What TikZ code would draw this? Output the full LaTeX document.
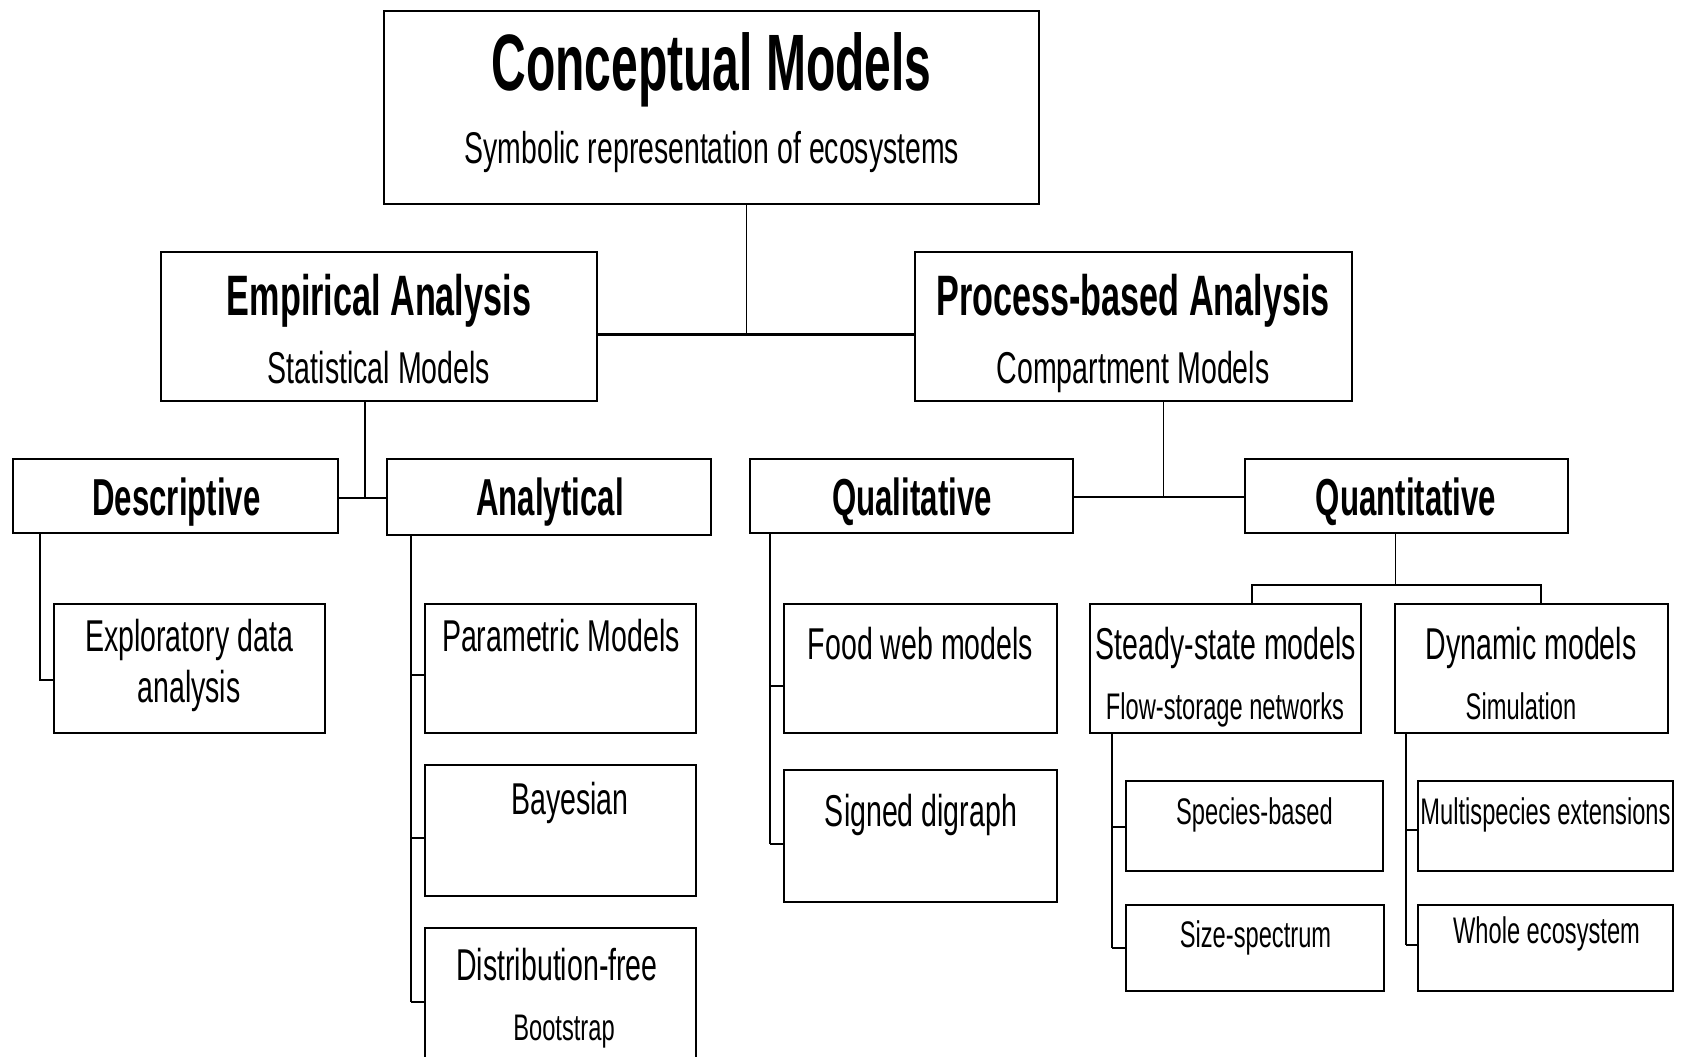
\documentclass[tikz,border=0pt]{standalone}
\usepackage{fontspec}
\setmainfont{Liberation Sans}[FakeStretch=0.64]
\newfontfamily\headfont{Liberation Sans}[FakeStretch=0.6]

\newcommand{\fs}[1]{\fontsize{#1}{#1}\selectfont}

\begin{document}
\begin{tikzpicture}[x=0.5pt,y=-0.5pt,
    box/.style={draw,line width=1.1pt,inner sep=0pt},
    wire/.style={line width=1pt},
    txt/.style={inner sep=0pt,anchor=base,font=\fs{22.3}},
    small/.style={inner sep=0pt,anchor=base,font=\fs{18.5}},
    head/.style={inner sep=0pt,anchor=base,font=\headfont\bfseries\fs{26}}]
  \useasboundingbox (0,0) rectangle (1687,1056);
  \fill[white] (0,0) rectangle (1687,1056);

  % top levels
  \node[box,minimum width=327.5pt,minimum height=96.5pt] (concept) at (711.5,107.5) {};
  \node[head,font=\headfont\bfseries\fs{40}] (conceptT) at (711.5,90) {Conceptual Models};
  \node[txt,font=\fs{22.2}] (conceptS) at (712,163) {Symbolic representation of ecosystems};

  \node[box,minimum width=218pt,minimum height=74.5pt] (emp) at (379,326.5) {};
  \node[head,font=\headfont\bfseries\fs{28.5}] (empT) at (379,315) {Empirical Analysis};
  \node[txt] (empS) at (379,383) {Statistical Models};

  \node[box,minimum width=218.5pt,minimum height=74.5pt] (proc) at (1133.5,326.5) {};
  \node[head,font=\headfont\bfseries\fs{28.5}] (procT) at (1133,315) {Process-based Analysis};
  \node[txt] (procS) at (1133,383) {Compartment Models};

  \node[box,minimum width=162.5pt,minimum height=37pt] (desc) at (175.5,496) {};
  \node[head] (descT) at (176.5,515) {Descriptive};
  \node[box,minimum width=162pt,minimum height=38pt] (anal) at (549,497) {};
  \node[head] (analT) at (550,515) {Analytical};
  \node[box,minimum width=161.5pt,minimum height=37pt] (qual) at (911.5,496) {};
  \node[head] (qualT) at (912,515) {Qualitative};
  \node[box,minimum width=161.5pt,minimum height=37pt] (quant) at (1406.5,496) {};
  \node[head] (quantT) at (1406,515) {Quantitative};

  % leaves
  \node[box,minimum width=135.5pt,minimum height=64.5pt] (explor) at (189.5,668.5) {};
  \node[txt] (explorA) at (189,651) {Exploratory data};
  \node[txt] (explorB) at (189,702) {analysis};

  \node[box,minimum width=135.5pt,minimum height=64.5pt] (param) at (560.5,668.5) {};
  \node[txt] (paramT) at (561,651) {Parametric Models};
  \node[box,minimum width=135.5pt,minimum height=65.5pt] (bayes) at (560.5,830.5) {};
  \node[txt] (bayesT) at (570,814) {Bayesian};
  \node[box,minimum width=135.5pt,minimum height=68pt] (distr) at (560.5,996) {};
  \node[txt] (distrT) at (557,980) {Distribution-free};
  \node[small] (distrS) at (564,1040) {Bootstrap};

  \node[box,minimum width=136.5pt,minimum height=64.5pt] (food) at (920.5,668.5) {};
  \node[txt] (foodT) at (920.5,659) {Food web models};
  \node[box,minimum width=136.5pt,minimum height=66pt] (signed) at (920.5,836) {};
  \node[txt] (signedT) at (921,826) {Signed digraph};

  \node[box,minimum width=135.5pt,minimum height=64.5pt] (steady) at (1225.5,668.5) {};
  \node[txt] (steadyT) at (1226,659) {Steady-state models};
  \node[small] (steadyS) at (1225,719) {Flow-storage networks};
  \node[box,minimum width=136.5pt,minimum height=64.5pt] (dyn) at (1531.5,668.5) {};
  \node[txt] (dynT) at (1531,659) {Dynamic models};
  \node[small] (dynS) at (1521,719) {Simulation};

  \node[box,minimum width=128.5pt,minimum height=45pt] (species) at (1254.5,826) {};
  \node[small] (speciesT) at (1254.5,824) {Species-based};
  \node[box,minimum width=129pt,minimum height=43pt] (size) at (1255,948) {};
  \node[small] (sizeT) at (1255.5,947) {Size-spectrum};
  \node[box,minimum width=127.5pt,minimum height=45pt] (multi) at (1545.5,826) {};
  \node[small] (multiT) at (1545.5,824) {Multispecies extensions};
  \node[box,minimum width=127.5pt,minimum height=43pt] (whole) at (1545.5,948) {};
  \node[small] (wholeT) at (1546.5,943) {Whole ecosystem};

  % joints
  \coordinate (cj) at (746,334);
  \coordinate (ej) at (365,498);
  \coordinate (pj) at (1163,497);
  \coordinate (qj) at (1395,585);

  \draw[line width=0.5pt] (concept.south -| cj) -- (cj);
  \draw[line width=1.5pt] (emp.east |- cj) -- (proc.west |- cj);
  \draw[wire] (emp.south -| ej) -- (ej);
  \draw[wire] (desc.east |- ej) -- (anal.west |- ej);
  \draw[line width=0.5pt] (proc.south -| pj) -- (pj);
  \draw[wire] (qual.east |- pj) -- (quant.west |- pj);
  \draw[line width=0.5pt] (quant.south -| qj) -- (qj);
  \draw[wire] (steady.north -| 1252,0) |- (qj) -| (dyn.north -| 1541,0);

  % side rails
  \draw[wire] (desc.south -| 40,0) |- (explor.west |- 0,680);
  \draw[wire] (anal.south -| 411,0) -- (411,1002);
  \foreach \n/\y in {param/675,bayes/838,distr/1002}
    \draw[wire] (411,\y) -- (\n.west |- 0,\y);
  \draw[wire] (qual.south -| 770,0) -- (770,844);
  \foreach \n/\y in {food/686,signed/844}
    \draw[wire] (770,\y) -- (\n.west |- 0,\y);
  \draw[wire] (steady.south -| 1112,0) -- (1112,948);
  \foreach \n/\y in {species/827,size/948}
    \draw[wire] (1112,\y) -- (\n.west |- 0,\y);
  \draw[wire] (dyn.south -| 1406,0) -- (1406,945);
  \foreach \n/\y in {multi/830,whole/945}
    \draw[wire] (1406,\y) -- (\n.west |- 0,\y);
\end{tikzpicture}
\end{document}
